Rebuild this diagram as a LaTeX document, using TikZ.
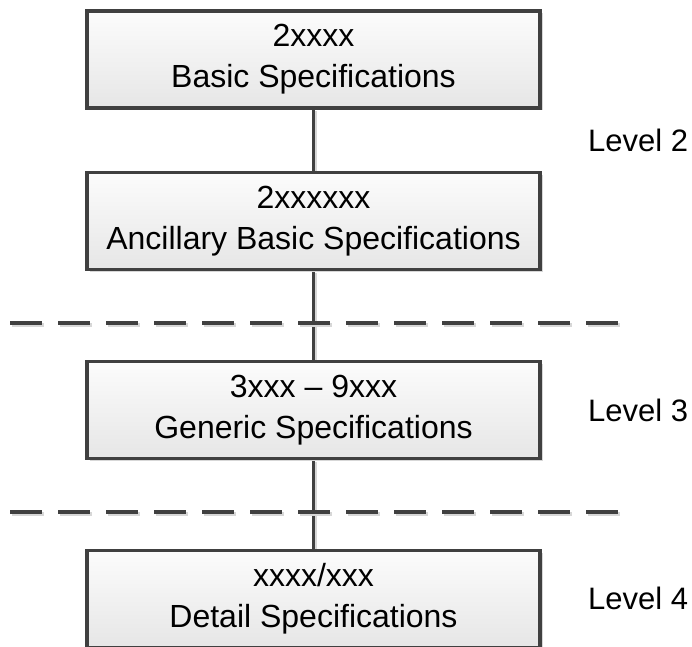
\documentclass[tikz,border=0pt]{standalone}
\usepackage{fontspec}
\setmainfont{Liberation Sans}
\usetikzlibrary{shadows,backgrounds}
\definecolor{lineC}{RGB}{64,64,64}
\definecolor{shadowC}{RGB}{215,215,215}
\definecolor{fillTop}{RGB}{252,252,252}
\definecolor{fillBot}{RGB}{230,230,230}
\begin{document}
\begin{tikzpicture}[x=1pt,y=1pt,
  specbox/.style={draw=lineC, line width=3.3pt, top color=fillTop, bottom color=fillBot,
    minimum width=453pt, minimum height=97pt, align=center, inner sep=0pt,
    font=\fontsize{32}{41}\selectfont, text=black,
    drop shadow={shadow xshift=2.5pt, shadow yshift=-2.5pt, fill=shadowC, opacity=1}},
  levellabel/.style={anchor=west, inner sep=0pt, font=\fontsize{31}{37}\selectfont, text=black},
  conn/.style={draw=lineC, line width=3.3pt,
    preaction={draw=shadowC, line width=3.3pt, transform canvas={shift={(2pt,-1.5pt)}}}},
  sepline/.style={draw=lineC, line width=4pt, dash pattern=on 32pt off 16pt,
    preaction={draw=shadowC, line width=4pt, dash pattern=on 32pt off 16pt, transform canvas={shift={(2pt,-2pt)}}}}
]
\useasboundingbox (0,0) rectangle (692,646);
\node[specbox] (b1) at (313.5,586.5) {2xxxx\\Basic Specifications};
\node[specbox] (b2) at (313.5,425) {2xxxxxx\\Ancillary Basic Specifications};
\node[specbox] (b3) at (313.5,236) {3xxx -- 9xxx\\Generic Specifications};
\node[specbox] (b4) at (313.5,47) {xxxx/xxx\\Detail Specifications};
\node[levellabel] (l2) at (588,506) {Level 2};
\node[levellabel] (l3) at (588,236) {Level 3};
\node[levellabel] (l4) at (588,48) {Level 4};
\coordinate (d1a) at (10,323);
\coordinate (d1b) at (618,323);
\coordinate (d2a) at (10,134);
\coordinate (d2b) at (618,134);
\begin{scope}[on background layer]
\draw[conn] (b1.south) -- (b2.north);
\draw[conn] (b2.south) -- (b3.north);
\draw[conn] (b3.south) -- (b4.north);
\draw[sepline] (d1a) -- (d1b);
\draw[sepline] (d2a) -- (d2b);
\end{scope}
\end{tikzpicture}
\end{document}
